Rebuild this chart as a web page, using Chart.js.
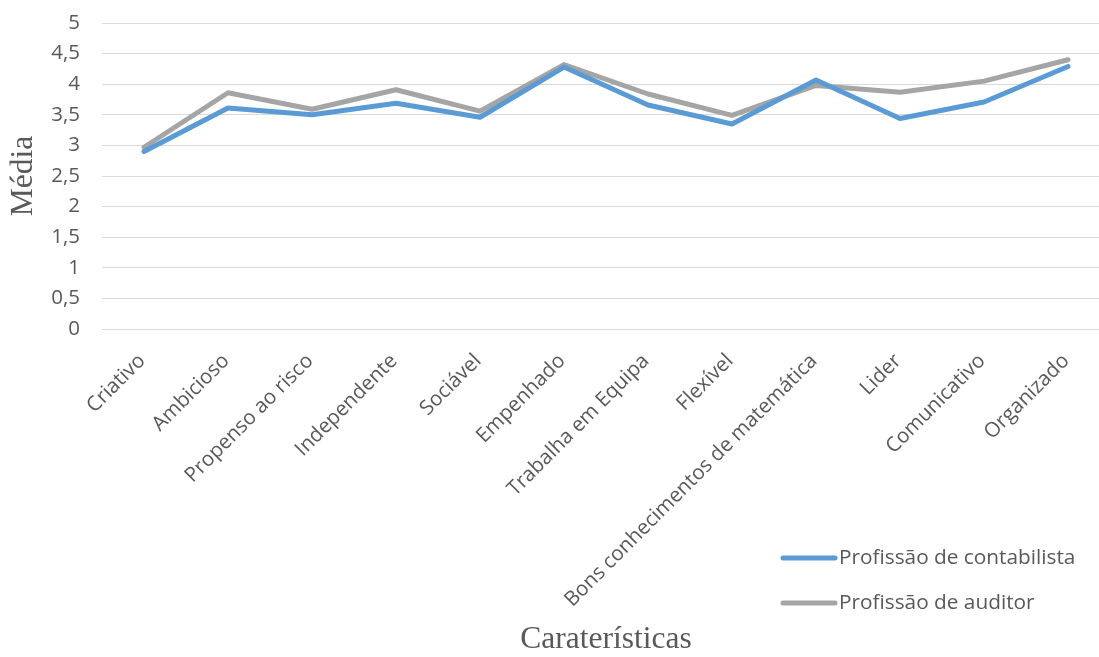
<!DOCTYPE html>
<html>
<head>
<meta charset="utf-8">
<script src="https://cdn.jsdelivr.net/npm/chart.js@4.4.1/dist/chart.umd.min.js"></script>
<style>
  html, body { margin: 0; padding: 0; background: #fff; overflow: hidden; width: 1099px; height: 657px; }
  #wrap { position: absolute; left: 0; top: 0; width: 1112px; height: 657px; }
</style>
</head>
<body>
<div id="wrap"><canvas id="c" width="1112" height="657"></canvas></div>
<script>
const categories = ["Criativo", "Ambicioso", "Propenso ao risco", "Independente", "Sociável", "Empenhado", "Trabalha em Equipa", "Flexível", "Bons conhecimentos de matemática", "Lider", "Comunicativo", "Organizado"];
const contabilista = [2.90, 3.61, 3.50, 3.69, 3.46, 4.28, 3.66, 3.35, 4.07, 3.44, 3.71, 4.29];
const auditor = [2.97, 3.86, 3.59, 3.91, 3.56, 4.32, 3.84, 3.49, 3.98, 3.87, 4.05, 4.40];
const seriesNames = ["Profissão de contabilista", "Profissão de auditor"];
const yTickLabels = ["0", "0,5", "1", "1,5", "2", "2,5", "3", "3,5", "4", "4,5", "5"];
const xTitle = "Caraterísticas";
const yTitle = "Média";

const TEXT = "#595959";
const BLUE = "#5B9BD5";
const GRAY = "#A5A5A5";
const CLEAR = "rgba(0,0,0,0)";

const legendPlugin = {
  id: "customLegend",
  afterDraw(chart) {
    const ctx = chart.ctx;
    ctx.save();
    chart.data.datasets.forEach((ds, i) => {
      const y = 558 + i * 45;
      ctx.strokeStyle = ds.borderColor;
      ctx.lineWidth = 5;
      ctx.lineCap = "round";
      ctx.beginPath();
      ctx.moveTo(783, y);
      ctx.lineTo(835, y);
      ctx.stroke();
      ctx.fillStyle = TEXT;
      ctx.font = "20.8px 'Open Sans'";
      ctx.textBaseline = "middle";
      ctx.textAlign = "left";
      ctx.fillText(ds.label, 839, y);
    });
    ctx.restore();
  }
};

new Chart(document.getElementById("c"), {
  type: "line",
  data: {
    labels: categories,
    datasets: [
      { label: seriesNames[0], data: contabilista, borderColor: BLUE, backgroundColor: BLUE, borderWidth: 5, pointRadius: 0, tension: 0, borderJoinStyle: "round", borderCapStyle: "round" },
      { label: seriesNames[1], data: auditor, borderColor: GRAY, backgroundColor: GRAY, borderWidth: 5, pointRadius: 0, tension: 0, borderJoinStyle: "round", borderCapStyle: "round" }
    ]
  },
  options: {
    responsive: false,
    animation: false,
    layout: { padding: { top: 23, right: 2, left: 0, bottom: 0 } },
    plugins: { legend: { display: false }, tooltip: { enabled: false } },
    scales: {
      x: {
        offset: true,
        grid: { display: true, drawOnChartArea: false, drawTicks: true, tickLength: 17, tickColor: CLEAR, color: CLEAR },
        border: { display: false },
        ticks: {
          autoSkip: false, maxRotation: 45, minRotation: 45, padding: 3, labelOffset: -2,
          color: TEXT, font: { family: "'Open Sans'", size: 20.5 }
        },
        title: { display: true, text: xTitle, color: TEXT, font: { family: "'Liberation Serif'", size: 31.5, lineHeight: 1.1 }, padding: { top: 0, bottom: 0 } },
        afterFit(scale) { scale.height = 328; }
      },
      y: {
        min: 0, max: 5,
        grid: { color: "#D9D9D9", lineWidth: 1, drawTicks: true, tickLength: 22, tickColor: CLEAR },
        border: { display: false },
        ticks: {
          stepSize: 0.5, padding: 0, color: TEXT, font: { family: "'Open Sans'", size: 20.5 },
          callback: (v, i) => yTickLabels[i]
        },
        title: { display: true, text: yTitle, color: TEXT, font: { family: "'Liberation Serif'", size: 31.5 }, padding: { top: 5, bottom: 0 } },
        afterFit(scale) { scale.width = 102; }
      }
    }
  },
  plugins: [legendPlugin]
});
</script>
</body>
</html>
